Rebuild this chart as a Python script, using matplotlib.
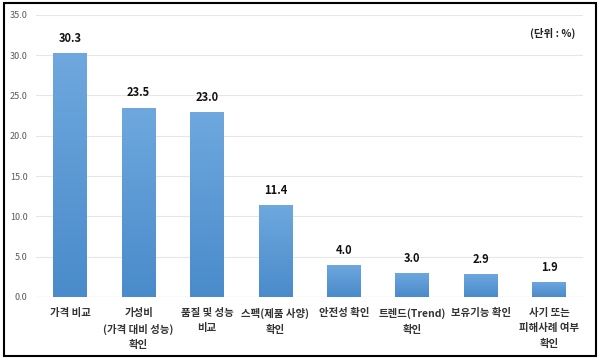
import numpy as np
import matplotlib.pyplot as plt
from matplotlib.patches import Rectangle

plt.rcParams['font.family'] = ['Noto Sans CJK KR', 'DejaVu Sans']

# 데이터
categories = ["가격 비교", "가성비\n(가격 대비 성능)\n확인", "품질 및 성능\n비교", "스펙(제품 사양)\n확인",
              "안전성 확인", "트렌드(Trend)\n확인", "보유기능 확인", "사기 또는\n피해사례 여부\n확인"]
values = [30.3, 23.5, 23.0, 11.4, 4.0, 3.0, 2.9, 1.9]
yticks = [0, 5, 10, 15, 20, 25, 30, 35]

fig = plt.figure(figsize=(6, 3.63), dpi=100)
ax = fig.add_axes([0.06, 0.182, 0.912, 0.777])

x = np.arange(len(categories))
bars = ax.bar(x, values, width=0.49, color='#5b9bd5', zorder=2)

# 세로 그라데이션 (위쪽이 밝게)
grad = np.linspace(0, 1, 256).reshape(-1, 1)
cmap = plt.matplotlib.colors.LinearSegmentedColormap.from_list('g', ['#4a8bcb', '#6ea8de'])
for b in bars:
    bx, by = b.get_x(), b.get_y()
    w, h = b.get_width(), b.get_height()
    im = ax.imshow(grad, extent=[bx, bx + w, by, by + h], aspect='auto',
                   cmap=cmap, origin='lower', zorder=3)
    im.set_clip_path(b)

for xi, v in zip(x, values):
    ax.text(xi, v + 1.0, f"{v:.1f}", ha='center', va='bottom', fontsize=8, fontweight='bold', color='#111111')

ax.set_xlim(-0.5, len(categories) - 0.5)
ax.set_ylim(0, 35)
ax.set_yticks(yticks)
ax.set_yticklabels([f"{t:.1f}" for t in yticks], fontsize=6.5, color='#595959')
ax.set_xticks(x)
ax.set_xticklabels(categories, fontsize=7.5, fontweight='bold', color='#333333', linespacing=1.65)
ax.tick_params(axis='x', length=0, pad=8)
ax.tick_params(axis='y', length=0, pad=6)
ax.grid(axis='y', color='#e6e6e6', linewidth=0.8, zorder=0)
ax.axhline(0, color='#d0d0d0', linewidth=0.8, zorder=1)
for s in ax.spines.values():
    s.set_visible(False)

ax.text(0.985, 0.935, "(단위 : %)", transform=ax.transAxes, ha='right', va='center',
        fontsize=7.5, fontweight='bold', color='#222222')

# 바깥 테두리
fig.patches.append(Rectangle((0.006, 0.018), 0.988, 0.975, transform=fig.transFigure,
                             fill=False, edgecolor='black', linewidth=1.5))

fig.savefig('out.png', dpi=100)
